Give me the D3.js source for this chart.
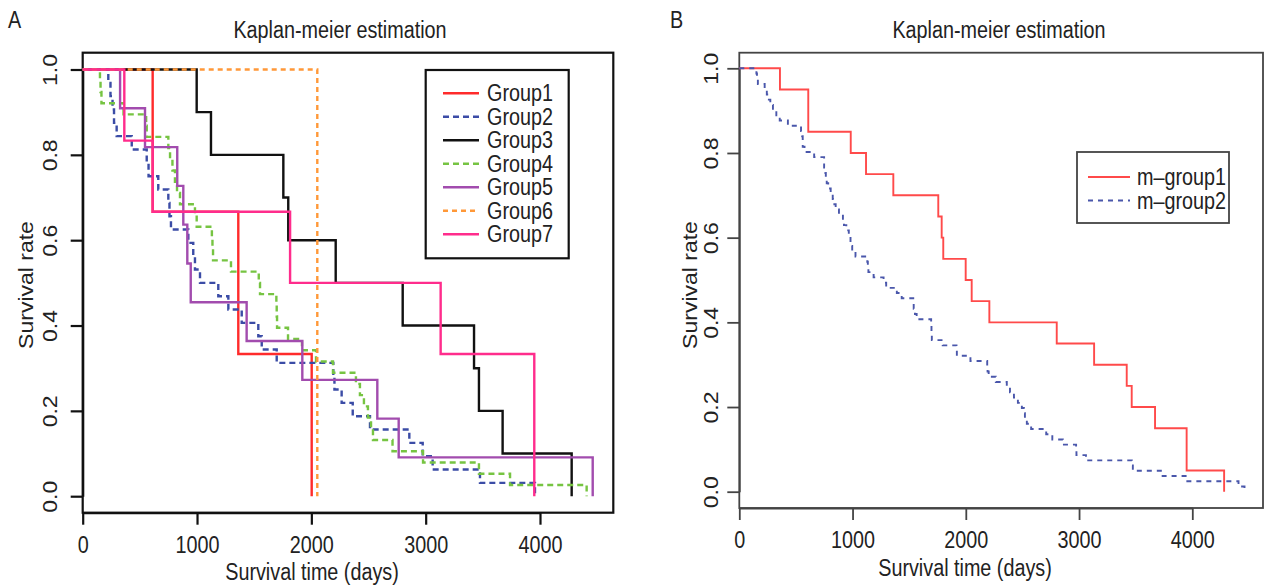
<!DOCTYPE html>
<html lang="en">
<head>
<meta charset="UTF-8">
<title>Kaplan-meier estimation</title>
<script src="https://cdn.jsdelivr.net/npm/d3@7"></script>
<style>
  body { margin: 0; background: #fff; }
  svg text { font-family: "Liberation Sans", Arial, sans-serif; fill: #222; }
</style>
</head>
<body>
<script>
// death times (days), one entry per death
var group1Times = [612, 1361, 2003];
var group2Times = [224, 243, 261, 274, 297, 429, 560, 576, 661, 749, 759, 772, 924, 967, 982, 1026,
                   1186, 1274, 1391, 1536, 1566, 1697, 2192, 2202, 2265, 2362, 2513, 2857, 2974, 3061, 3475, 3956];
var group3Times = [997, 1122, 1755, 1798, 2213, 2799, 3423, 3466, 3673, 4277];
var group4Times = [151, 156, 164, 357, 555, 560, 749, 764, 785, 807, 825, 851, 982, 997, 1130, 1135, 1140,
                   1297, 1540, 1551, 1694, 1697, 1700, 1796, 1918, 2041, 2189, 2390, 2425, 2460, 2495, 2522,
                   2539, 2710, 2977, 3466, 3738, 4408];
var group5Times = [327, 545, 827, 880, 915, 945, 1434, 1921, 2577, 2764, 4461];
var group6Times = [2052];
var group7Times = [364, 612, 1814, 3131, 3950, 3950];

var mGroup1Times = [359, 609, 609, 984, 1119, 1360, 1757, 1787, 1801, 1999, 2052, 2208, 2803, 3133,
                    3421, 3465, 3671, 3950, 3950, 4281];
// m-group2 is groups 2, 4 and 5 put together
var mGroup2Times = group2Times.concat(group4Times, group5Times);

var groupNames = ["Group1", "Group2", "Group3", "Group4", "Group5", "Group6", "Group7"];
var mGroupNames = ["m\u2013group1", "m\u2013group2"];
var xTicks = [0, 1000, 2000, 3000, 4000];
var yTicks = [0, 0.2, 0.4, 0.6, 0.8, 1.0];

// styles
var groupColors = ["#ff2b2b", "#3b4ca6", "#111111", "#76c442", "#a24cae", "#ff9838", "#ff2c8c"];
var groupDash = [null, "6,4", null, "6,4", null, "5,4", null];
var mColors = ["#ff4a4a", "#4a57ab"];
var mDash = [null, "5,5"];

var FS = 23, SX = 0.86;   // picture text is a bit narrower than it is tall

// Kaplan-Meier estimate, no censoring
function km(times) {
  var n = times.length, s = 1, gone = 0, pts = [[0, 1]];
  d3.rollups(times, function(v) { return v.length; }, function(d) { return d; })
    .sort(function(a, b) { return a[0] - b[0]; })
    .forEach(function(e) {
      s = s * (1 - e[1] / (n - gone));
      gone += e[1];
      pts.push([e[0], s]);
    });
  return pts;
}

var svg = d3.select("body").append("svg")
  .attr("width", 1264).attr("height", 586);

function txt(x, y, s, anchor, rot) {
  return svg.append("text")
    .attr("transform", "translate(" + x + "," + y + ") scale(" + SX + ",1)" + (rot ? " rotate(-90)" : ""))
    .attr("text-anchor", anchor || "middle")
    .attr("font-size", FS)
    .text(s);
}

function panel(p) {
  var x = d3.scaleLinear().domain([0, 4000]).range([p.x0, p.x4000]);
  var y = d3.scaleLinear().domain([0, 1]).range([p.y0, p.y1]);

  svg.append("rect")
    .attr("x", p.box[0]).attr("y", p.box[1])
    .attr("width", p.box[2] - p.box[0]).attr("height", p.box[3] - p.box[1])
    .attr("fill", "none").attr("stroke", p.axisColor).attr("stroke-width", p.axisWidth);

  var gx = svg.append("g")
    .attr("transform", "translate(0," + p.box[3] + ")")
    .call(d3.axisBottom(x).tickValues(xTicks).tickSize(12).tickSizeOuter(0).tickFormat(d3.format("d")));
  var gy = svg.append("g")
    .attr("transform", "translate(" + p.box[0] + ",0)")
    .call(d3.axisLeft(y).tickValues(yTicks).tickSize(12).tickSizeOuter(0).tickFormat(d3.format(".1f")));

  [gx, gy].forEach(function(g) {
    g.attr("font-family", null).attr("font-size", null);
    g.selectAll(".domain, .tick line").attr("stroke", p.axisColor).attr("stroke-width", p.axisWidth);
    g.selectAll(".tick text").attr("font-size", FS).attr("fill", "#222").attr("dy", null);
  });
  gx.selectAll(".tick text")
    .attr("y", null)
    .attr("transform", "translate(0," + (p.xLabelBase - p.box[3]) + ") scale(" + SX + ",1)");
  gy.selectAll(".tick text")
    .attr("x", 0).attr("y", (p.yLabelBase - p.box[0]) / SX)
    .attr("text-anchor", "middle")
    .attr("transform", "scale(" + SX + ",1) rotate(-90)");

  var line = d3.line()
    .x(function(d) { return x(d[0]); })
    .y(function(d) { return y(d[1]); })
    .curve(d3.curveStepAfter);

  p.series.forEach(function(times, i) {
    svg.append("path")
      .datum(km(times))
      .attr("d", line)
      .attr("fill", "none")
      .attr("stroke", p.colors[i])
      .attr("stroke-width", p.lineWidth)
      .attr("stroke-dasharray", p.dash[i]);
  });

  txt(p.titleX, 38, "Kaplan-meier estimation");
  txt(p.xTitleX, p.xTitleBase, "Survival time (days)");
  txt(p.yTitleBase, 285, "Survival rate", "middle", true);
  txt(p.letterX, 28, p.letter, "start");

  var lg = p.legend;
  svg.append("rect")
    .attr("x", lg.box[0]).attr("y", lg.box[1])
    .attr("width", lg.box[2] - lg.box[0]).attr("height", lg.box[3] - lg.box[1])
    .attr("fill", "#fff").attr("stroke", p.axisColor).attr("stroke-width", p.axisWidth);
  p.names.forEach(function(name, i) {
    var ry = lg.row0 + i * lg.step;
    svg.append("line")
      .attr("x1", lg.lineX[0]).attr("x2", lg.lineX[1])
      .attr("y1", ry).attr("y2", ry)
      .attr("stroke", p.colors[i]).attr("stroke-width", p.lineWidth)
      .attr("stroke-dasharray", p.dash[i]);
    txt(lg.textX, ry + 8, name, "start");
  });
}

panel({
  x0: 82.7, x4000: 540, y0: 496.2, y1: 69.5,
  box: [82.7, 52.7, 613.3, 512.7],
  axisColor: "#111", axisWidth: 2.2, lineWidth: 2.4,
  xLabelBase: 553, yLabelBase: 57,
  titleX: 340, xTitleX: 312, xTitleBase: 580, yTitleBase: 33,
  letter: "A", letterX: 8,
  series: [group1Times, group2Times, group3Times, group4Times, group5Times, group6Times, group7Times],
  colors: groupColors, dash: groupDash, names: groupNames,
  legend: { box: [425.7, 70, 568.7, 258.3], row0: 93.3, step: 23.5, lineX: [443, 479], textX: 487 }
});

panel({
  x0: 739.3, x4000: 1192.3, y0: 491.7, y1: 68.3,
  box: [739.3, 52.7, 1263, 508],
  axisColor: "#444", axisWidth: 1.8, lineWidth: 1.9,
  xLabelBase: 548, yLabelBase: 718,
  titleX: 999, xTitleX: 965, xTitleBase: 576, yTitleBase: 697,
  letter: "B", letterX: 670,
  series: [mGroup1Times, mGroup2Times],
  colors: mColors, dash: mDash, names: mGroupNames,
  legend: { box: [1077, 152, 1229, 223], row0: 177, step: 23.5, lineX: [1088, 1130], textX: 1137 }
});
</script>
</body>
</html>
